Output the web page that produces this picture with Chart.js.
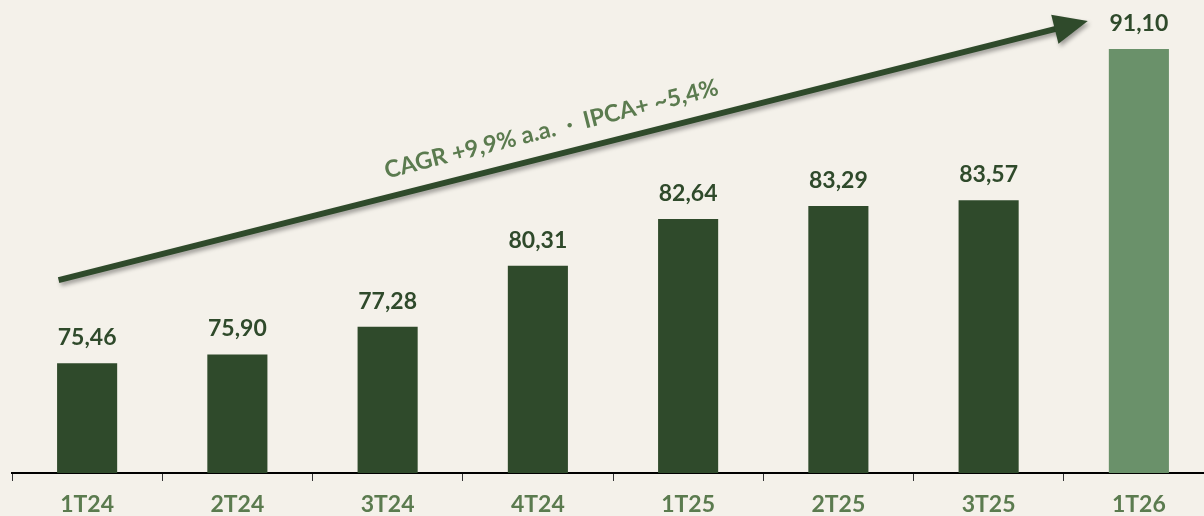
<!DOCTYPE html>
<html>
<head>
<meta charset="utf-8">
<script src="https://cdn.jsdelivr.net/npm/chart.js@4/dist/chart.umd.min.js"></script>
<style>
    html, body { margin: 0; padding: 0; background: #f4f1ea; overflow: hidden; }
    #wrap { width: 1216px; height: 531px; }
</style>
</head>
<body>
<div id="wrap"><canvas id="receita_chart"></canvas></div>
<script>
const trimestres = ['1T24', '2T24', '3T24', '4T24', '1T25', '2T25', '3T25', '1T26'];
const valores = [75.46, 75.90, 77.28, 80.31, 82.64, 83.29, 83.57, 91.10];
const coresBarras = ['#2f4a2b', '#2f4a2b', '#2f4a2b', '#2f4a2b', '#2f4a2b', '#2f4a2b', '#2f4a2b', '#6a916a'];
const textoSeta = 'CAGR +9,9% a.a.  ·  IPCA+ ~5,4%';

const FONTE = 'Lato, "Open Sans", sans-serif';

document.addEventListener('DOMContentLoaded', function () {
    const ctx = document.getElementById('receita_chart').getContext('2d');

    // rótulos de valor acima das barras
    const rotulosPlugin = {
        id: 'rotulos',
        afterDatasetsDraw(chart) {
            const c = chart.ctx;
            const meta = chart.getDatasetMeta(0);
            c.save();
            c.font = 'bold 23px ' + FONTE;
            c.fillStyle = '#2f4a2b';
            c.textAlign = 'center';
            c.textBaseline = 'alphabetic';
            meta.data.forEach(function (bar, i) {
                const txt = valores[i].toFixed(2).replace('.', ',');
                c.fillText(txt, bar.x, bar.y - 18);
            });
            c.restore();
        }
    };

    // seta de crescimento com texto
    const setaPlugin = {
        id: 'seta',
        afterDatasetsDraw(chart) {
            const c = chart.ctx;
            const xs = chart.scales.x, ys = chart.scales.y;
            const x0 = xs.getPixelForValue(-0.19), y0 = ys.getPixelForValue(79.6);
            const x1 = xs.getPixelForValue(6.66), y1 = ys.getPixelForValue(92.5);
            const ang = Math.atan2(y1 - y0, x1 - x0);
            const headLen = 34, headW = 15;
            const bx = x1 - headLen * Math.cos(ang), by = y1 - headLen * Math.sin(ang);

            c.save();
            c.shadowColor = 'rgba(0,0,0,0.35)';
            c.shadowBlur = 4;
            c.shadowOffsetX = 2;
            c.shadowOffsetY = 3;
            c.strokeStyle = '#2f4a2b';
            c.fillStyle = '#2f4a2b';
            c.lineWidth = 6;
            c.beginPath();
            c.moveTo(x0, y0);
            c.lineTo(bx + 2 * Math.cos(ang), by + 2 * Math.sin(ang));
            c.stroke();
            c.beginPath();
            c.moveTo(x1, y1);
            c.lineTo(bx + headW * Math.sin(ang), by - headW * Math.cos(ang));
            c.lineTo(bx - headW * Math.sin(ang), by + headW * Math.cos(ang));
            c.closePath();
            c.fill();
            c.restore();

            // texto ao longo da seta
            const t = 0.485, off = 26;
            const mx = x0 + (x1 - x0) * t + off * Math.sin(ang);
            const my = y0 + (y1 - y0) * t - off * Math.cos(ang);
            c.save();
            c.translate(mx, my);
            c.rotate(ang);
            c.font = 'bold 23.5px ' + FONTE;
            c.fillStyle = '#5b7b4f';
            c.textAlign = 'center';
            c.textBaseline = 'middle';
            c.fillText(textoSeta, 0, 0);
            c.restore();
        }
    };

    new Chart(ctx, {
        type: 'bar',
        data: {
            labels: trimestres,
            datasets: [{
                data: valores,
                backgroundColor: coresBarras,
                borderWidth: 0,
                barPercentage: 0.4,
                categoryPercentage: 1.0
            }]
        },
        options: {
            responsive: true,
            maintainAspectRatio: false,
            animation: false,
            layout: { padding: { left: 12, right: 2, top: 0, bottom: 3 } },
            plugins: {
                legend: { display: false },
                tooltip: { enabled: false }
            },
            scales: {
                x: {
                    offset: true,
                    grid: {
                        display: true,
                        offset: true,
                        drawOnChartArea: false,
                        drawTicks: true,
                        tickLength: 8,
                        color: '#333'
                    },
                    border: { display: true, color: '#000', width: 2 },
                    ticks: {
                        color: '#5b7b4f',
                        padding: 12,
                        font: { family: FONTE, size: 23, weight: 'bold', lineHeight: 1 }
                    }
                },
                y: {
                    display: false,
                    min: 70,
                    max: 93.54
                }
            }
        },
        plugins: [rotulosPlugin, setaPlugin]
    });
});
</script>
</body>
</html>
